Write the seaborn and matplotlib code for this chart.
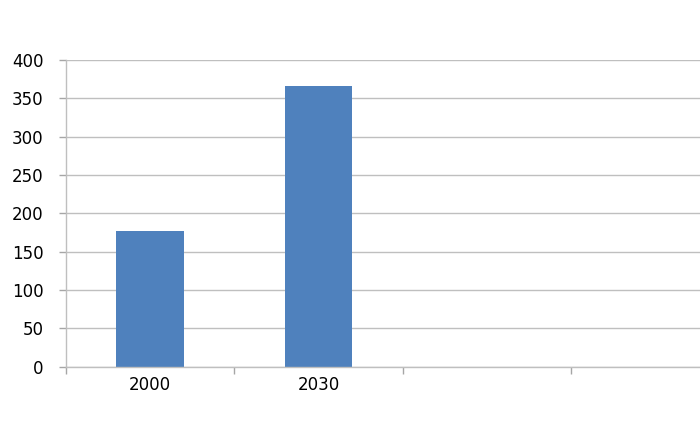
import numpy as np
import pandas as pd
import matplotlib
matplotlib.use("Agg")
import matplotlib.pyplot as plt
import seaborn as sns
from matplotlib.ticker import FixedLocator

categories = ["2000", "2030", " ", "  "]
values = [177, 366, np.nan, np.nan]
y_ticks = [0, 50, 100, 150, 200, 250, 300, 350, 400]

sns.set_theme(style="white")
plt.rcParams['font.family'] = ['DejaVu Sans']

df = pd.DataFrame({"cat": categories, "val": values})

fig = plt.figure(figsize=(7.0, 4.26), dpi=100)
W, H = 700, 426
left, bottom, width, height = 65.7, 426 - 366.7, 674.0, 306.7
ax = fig.add_axes([left / W, bottom / H, width / W, height / H])

sns.barplot(data=df, x="cat", y="val", order=categories, color="#4F81BD",
            width=0.4, saturation=1, ax=ax, errorbar=None, linewidth=0)

ax.set_xlim(-0.5, len(categories) - 0.5)
ax.set_ylim(0, 400)
ax.set_yticks(y_ticks)
ax.set_xlabel("")
ax.set_ylabel("")

ax.yaxis.grid(True, color="#BFBFBF", linewidth=1)
ax.set_axisbelow(True)
for s in ["top", "right"]:
    ax.spines[s].set_visible(False)
for s in ["left", "bottom"]:
    ax.spines[s].set_color("#BFBFBF")
    ax.spines[s].set_linewidth(1)

ax.xaxis.set_minor_locator(FixedLocator(np.arange(-0.5, len(categories), 1.0)))
ax.tick_params(axis="x", which="major", length=0, pad=7, labelsize=12, colors="black")
ax.tick_params(axis="x", which="minor", length=5, width=1, color="#A6A6A6", direction="out", bottom=True)
ax.tick_params(axis="y", which="major", length=5, width=1, color="#A6A6A6", direction="out",
               left=True, pad=11, labelsize=12, labelcolor="black")

fig.savefig("out.png", dpi=100)
